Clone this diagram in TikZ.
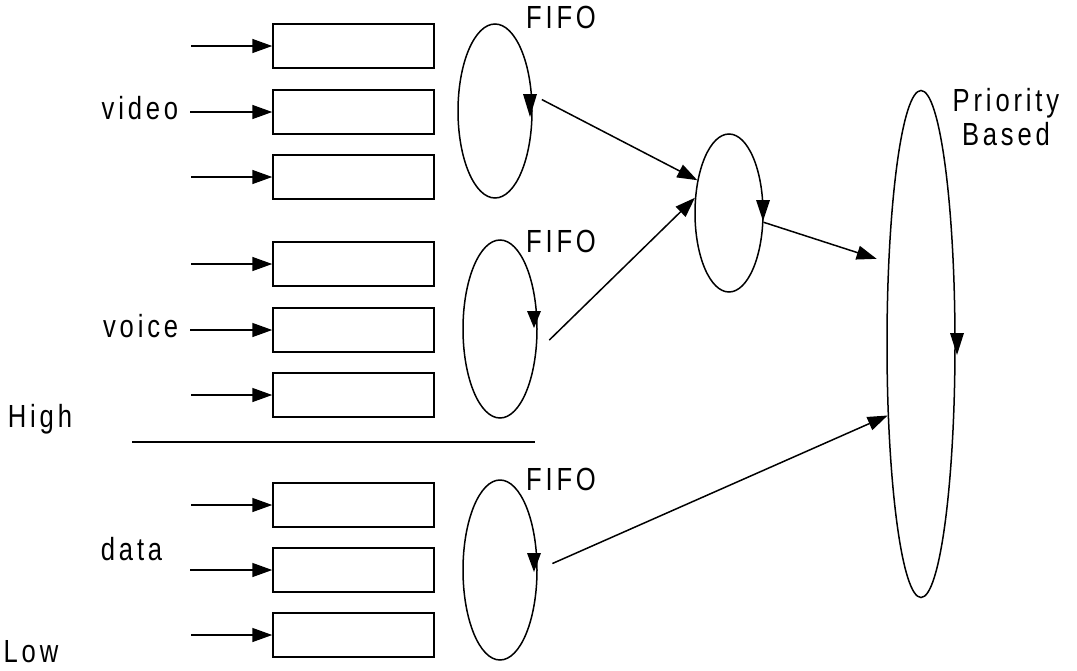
\documentclass[tikz,border=0pt]{standalone}
\usepackage{fontspec}
\newfontfamily\lbl[LetterSpace=12,FakeStretch=0.8]{Liberation Sans}
\usetikzlibrary{shapes.geometric,arrows.meta,calc}
\begin{document}
\begin{tikzpicture}[x=1pt,y=-1pt,
  line width=1.5pt,
  queue/.style={draw,rectangle,minimum width=161pt,minimum height=44pt,inner sep=0pt},
  sched/.style={draw,ellipse,inner sep=0pt},
  lab/.style={font=\fontsize{32}{31}\lbl,inner sep=0pt},
  feed/.style={-{Triangle[length=20pt,width=14pt]}},
  link/.style={-{Triangle[length=20pt,width=14pt]}},
  tipmark/.style={fill=black}]
\useasboundingbox (0,0) rectangle (1077,670);

% queues
\foreach \n/\y in {1/46,2/112,3/177,4/264,5/330,6/395,7/505,8/570,9/635}{
  \node[queue] (b\n) at (353.5,\y) {};
}
% input arrows
\foreach \n in {1,3,4,6,7,9}{
  \coordinate (s\n) at ($(b\n.west)+(-81,0)$);
  \draw[feed] (s\n) -- (b\n.west);
}
\node[lab,anchor=east] (video) at (179,108) {video};
\node[lab,anchor=east] (voice) at (179,326) {voice};
\node[lab,anchor=east] (data) at (163,549) {data};
\draw[feed] ([xshift=11pt]video.east |- b2.west) -- (b2.west);
\draw[feed] ([xshift=11pt]voice.east |- b5.west) -- (b5.west);
\draw[feed] ([xshift=27pt]data.east |- b8.west) -- (b8.west);

\node[lab] (high) at (40,419) {High};
\node[lab] (low) at (31,652) {Low};
\coordinate (h1) at (132,442);
\coordinate (h2) at (535,442);
\draw (h1) -- (h2);

% schedulers
\node[sched,minimum width=74pt,minimum height=174pt] (f1) at (495,111) {};
\node[sched,minimum width=74pt,minimum height=178pt] (f2) at (500,329) {};
\node[sched,minimum width=74pt,minimum height=180pt] (f3) at (500,570) {};
\node[sched,minimum width=68pt,minimum height=158pt] (mid) at (729,213) {};
\node[sched,minimum width=68pt,minimum height=507pt] (big) at (921,344) {};

\node[lab] (fifo1) at (561,17) {FIFO};
\node[lab] (fifo2) at (561,241) {FIFO};
\node[lab] (fifo3) at (561,479) {FIFO};
\node[lab,align=center] (prio) at (1006,117) {Priority\\[3pt]Based};

% direction marks on the ellipses
\fill[tipmark] (523,94) -- (537,94) -- (530,117) -- cycle;
\fill[tipmark] (527,311) -- (541,311) -- (534,328) -- cycle;
\fill[tipmark] (527,553) -- (541,553) -- (534,572) -- cycle;
\fill[tipmark] (756,200) -- (770,200) -- (763,221) -- cycle;
\fill[tipmark] (950,333) -- (964,333) -- (957,355) -- cycle;

% connectors
\draw[link,shorten <=11pt] (f1.24) -- (mid.134);
\draw[link,shorten <=18pt] (f2.-33) -- (mid.156);
\draw[link,shorten >=12pt] (mid.-15) -- (big.112);
\draw[link,shorten <=16pt] (f3.east) -- (big.245);
\end{tikzpicture}
\end{document}
